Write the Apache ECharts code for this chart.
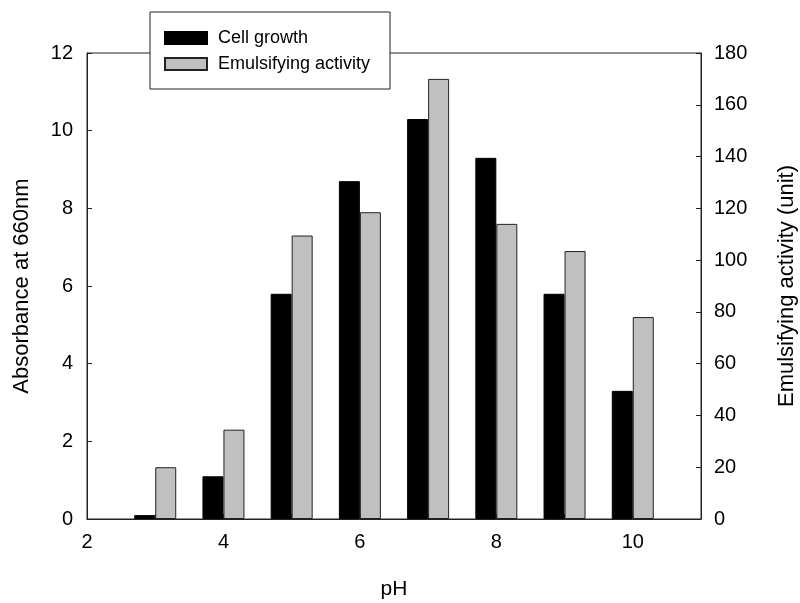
<!DOCTYPE html>
<html>
<head>
<meta charset="utf-8">
<title>pH</title>
<script src="https://cdn.jsdelivr.net/npm/echarts@6/dist/echarts.min.js"></script>
<style>
html,body{margin:0;padding:0;background:#fff;}
#main{width:800px;height:603px;}
</style>
</head>
<body>
<div id="main"></div>
<script>
var phValues = [3, 4, 5, 6, 7, 8, 9, 10];
var cellGrowth = [0.1, 1.1, 5.8, 8.7, 10.3, 9.3, 5.8, 3.3];
var emulsifying = [20, 34.5, 109.5, 118.5, 170, 114, 103.5, 78];
var xTicks = [2, 4, 6, 8, 10];

var font = 'Liberation Sans, Arial, Helvetica, sans-serif';

function pairs(ys) {
    return phValues.map(function (x, i) { return [x, ys[i]]; });
}

var chart = echarts.init(document.getElementById('main'));
chart.setOption({
    animation: false,
    backgroundColor: '#fff',
    textStyle: {fontFamily: font},
    grid: {
        left: 87, right: 99, top: 53, bottom: 84,
        outerBoundsMode: 'none',
        containLabel: false,
        show: true, borderColor: '#222', borderWidth: 1
    },
    legend: {
        left: 150, top: 12,
        orient: 'vertical',
        backgroundColor: '#fff',
        borderColor: '#222', borderWidth: 1,
        padding: [17, 20, 16, 14],
        itemWidth: 42, itemHeight: 12, itemGap: 8,
        icon: 'rect',
        textStyle: {fontFamily: font, fontSize: 18, color: '#000', padding: [0, 0, 0, 6]},
        data: ['Cell growth', 'Emulsifying activity']
    },
    xAxis: {
        type: 'value',
        min: 2, max: 11, interval: 1,
        name: 'pH', nameLocation: 'middle', nameGap: 60,
        nameTextStyle: {fontSize: 21, color: '#000', fontFamily: font},
        axisLine: {lineStyle: {color: '#222'}},
        axisTick: {inside: true, length: 5, lineStyle: {color: '#222'},
            interval: function (v) { return xTicks.indexOf(v) >= 0; }},
        axisLabel: {fontSize: 20, color: '#000', margin: 13,
            formatter: function (v) { return xTicks.indexOf(v) >= 0 ? v : ''; }},
        splitLine: {show: false}
    },
    yAxis: [{
        type: 'value',
        min: 0, max: 12, interval: 2,
        name: 'Absorbance at 660nm', nameLocation: 'middle', nameGap: 54,
        nameTextStyle: {fontSize: 22, color: '#000', fontFamily: font},
        axisLine: {show: true, lineStyle: {color: '#222'}},
        axisTick: {show: true, inside: true, length: 5, lineStyle: {color: '#222'}},
        axisLabel: {fontSize: 20, color: '#000', margin: 14},
        splitLine: {show: false}
    }, {
        type: 'value',
        min: 0, max: 180, interval: 20,
        name: 'Emulsifying activity (unit)', nameLocation: 'middle', nameGap: 75,
        nameRotate: 90,
        nameTextStyle: {fontSize: 22, color: '#000', fontFamily: font},
        axisLine: {show: true, lineStyle: {color: '#222'}},
        axisTick: {show: true, inside: true, length: 5, lineStyle: {color: '#222'}},
        axisLabel: {fontSize: 20, color: '#000', margin: 13},
        splitLine: {show: false}
    }],
    series: [{
        name: 'Cell growth',
        type: 'bar',
        yAxisIndex: 0,
        barWidth: 21,
        barGap: '0%',
        itemStyle: {color: '#000', borderColor: '#000', borderWidth: 1},
        data: pairs(cellGrowth)
    }, {
        name: 'Emulsifying activity',
        type: 'bar',
        yAxisIndex: 1,
        barWidth: 21,
        barGap: '0%',
        itemStyle: {color: '#c0c0c0', borderColor: '#222', borderWidth: 1},
        data: pairs(emulsifying)
    }]
});
</script>
</body>
</html>
